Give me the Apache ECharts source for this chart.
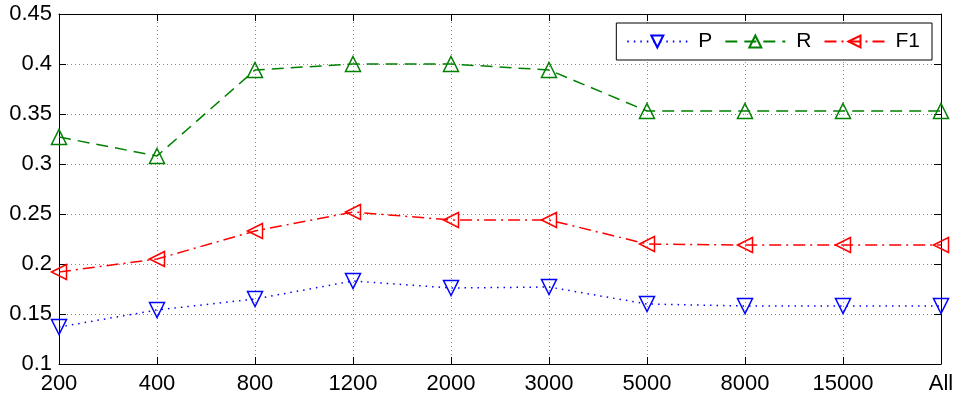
<!DOCTYPE html>
<html>
<head>
<meta charset="utf-8">
<script src="https://cdn.jsdelivr.net/npm/echarts@6/dist/echarts.min.js"></script>
<style>
  html, body { margin: 0; padding: 0; background: #fff; }
  #chart { width: 966px; height: 399px; }
</style>
</head>
<body>
<div id="chart"></div>
<script>
const categories = ['200', '400', '800', '1200', '2000', '3000', '5000', '8000', '15000', 'All']
const precision = [0.137, 0.154, 0.165, 0.183, 0.176, 0.177, 0.160, 0.158, 0.158, 0.158]
const recall = [0.327, 0.308, 0.394, 0.400, 0.400, 0.394, 0.353, 0.353, 0.353, 0.353]
const f1 = [0.192, 0.205, 0.233, 0.252, 0.244, 0.244, 0.220, 0.219, 0.219, 0.219]
const yMin = 0.1
const yMax = 0.45
const yStep = 0.05

const font = '"Liberation Sans", Arial, Helvetica, sans-serif'
const chart = echarts.init(document.getElementById('chart'))

const gridLine = { show: true, lineStyle: { color: '#888', type: [1, 3], width: 1 } }
const axisLine = { show: true, onZero: false, lineStyle: { color: '#000', width: 1 } }

const makeSeries = (name, data, color, dash, symbol, rotate) => ({
  name: name,
  type: 'line',
  data: data,
  symbol: symbol,
  symbolRotate: rotate,
  symbolSize: 15,
  showAllSymbol: true,
  itemStyle: { color: 'rgba(255,255,255,0)', borderColor: color, borderWidth: 1.5 },
  lineStyle: { color: color, width: 1.5, type: dash },
  emphasis: { disabled: true },
  animation: false
})

chart.setOption({
  backgroundColor: '#fff',
  textStyle: { fontFamily: font },
  grid: { left: 59, right: 25, top: 14, bottom: 35 },
  legend: {
    right: 34,
    top: 23,
    orient: 'horizontal',
    padding: [8, 12, 8, 10],
    itemGap: 12,
    itemWidth: 60,
    itemHeight: 15,
    borderColor: '#000',
    borderWidth: 1,
    backgroundColor: '#fff',
    selectedMode: false,
    textStyle: { fontSize: 21, color: '#000', fontFamily: font, padding: [0, 0, 0, 6] },
    data: ['P', 'R', 'F1']
  },
  xAxis: [
    {
      type: 'category',
      data: categories,
      boundaryGap: false,
      position: 'bottom',
      axisLine: axisLine,
      axisTick: { show: true, inside: true, length: 7, alignWithLabel: true, lineStyle: { color: '#000' } },
      axisLabel: { fontSize: 22, color: '#000', margin: 9, fontFamily: font, interval: 0 },
      splitLine: gridLine
    },
    {
      type: 'category',
      data: categories,
      boundaryGap: false,
      position: 'top',
      axisLine: axisLine,
      axisTick: { show: true, inside: true, length: 7, lineStyle: { color: '#000' } },
      axisLabel: { show: false },
      splitLine: { show: false }
    }
  ],
  yAxis: [
    {
      type: 'value',
      min: yMin,
      max: yMax,
      interval: yStep,
      position: 'left',
      axisLine: axisLine,
      axisTick: { show: true, inside: true, length: 7, lineStyle: { color: '#000' } },
      axisLabel: { fontSize: 22, color: '#000', margin: 7, fontFamily: font },
      splitLine: gridLine
    },
    {
      type: 'value',
      min: yMin,
      max: yMax,
      interval: yStep,
      position: 'right',
      axisLine: axisLine,
      axisTick: { show: true, inside: true, length: 7, lineStyle: { color: '#000' } },
      axisLabel: { show: false },
      splitLine: { show: false }
    }
  ],
  series: [
    makeSeries('P', precision, '#0000ff', [1.5, 5], 'triangle', 180),
    makeSeries('R', recall, '#008000', [12, 7], 'triangle', 0),
    makeSeries('F1', f1, '#ff0000', [12, 5, 2, 5], 'triangle', 90)
  ]
})
</script>
</body>
</html>
